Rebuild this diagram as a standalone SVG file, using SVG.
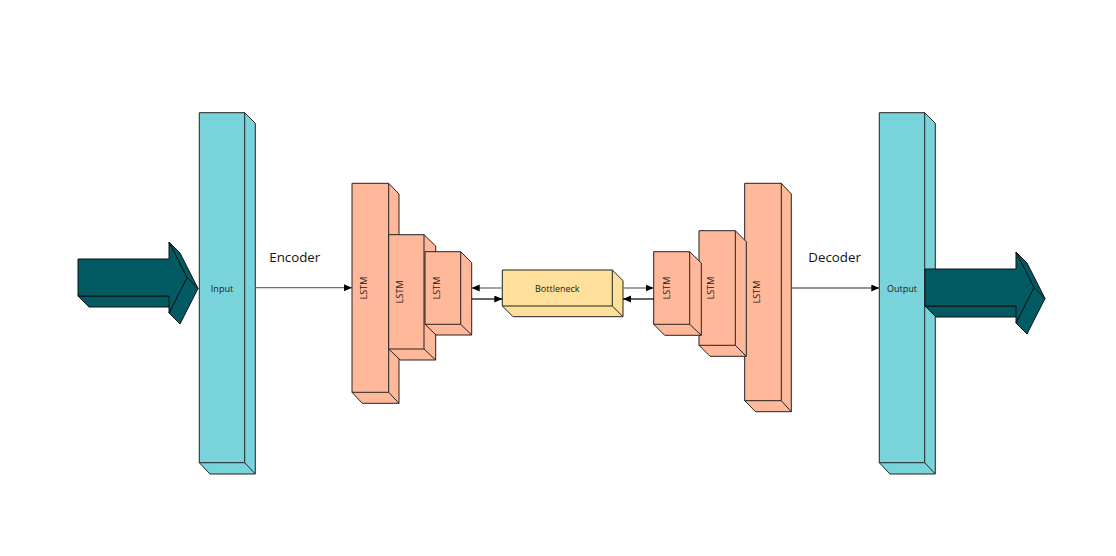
<svg xmlns="http://www.w3.org/2000/svg" width="1116" height="556" viewBox="0 0 1116 556">
<defs>
<marker id="ah" markerUnits="userSpaceOnUse" markerWidth="9" markerHeight="8" refX="8" refY="3.5" orient="auto">
<path d="M0,0 L8,3.5 L0,7 Z" fill="#000"/>
</marker>
<style>
.col{fill:#79D3DB;stroke:#222;stroke-width:1;stroke-linejoin:round}
.lstm{fill:#FFB899;stroke:#222;stroke-width:1;stroke-linejoin:round}
.bn{fill:#FFE09A;stroke:#222;stroke-width:1;stroke-linejoin:round}
.arr{fill:#025B63;stroke:#111;stroke-width:1;stroke-linejoin:round}
.edge{fill:none;stroke:#222;stroke-width:1}
.lbl{font-family:"Open Sans","DejaVu Sans",sans-serif;font-size:9px;fill:#1a1a1a;text-anchor:middle;dominant-baseline:central}
.big{font-family:"Open Sans","DejaVu Sans",sans-serif;font-size:13.3px;fill:#111}
.g{fill:none;stroke:#6E6E6E;stroke-width:1.3}
.k{fill:none;stroke:#000;stroke-width:1.2}
</style>
</defs>
<rect width="1116" height="556" fill="#fff"/>

<!-- Input arrow -->
<g id="input-arrow">
<polygon class="arr" points="78,296 169,296 180,307 89,307"/>
<polygon class="arr" points="169,242 180,253 198,288.5 187,277.5"/>
<polygon class="arr" points="187,277.5 198,288.5 180,324 169,313"/>
<polygon class="arr" points="78,259 169,259 169,242 187,277.5 169,313 169,296 78,296"/>
</g>

<!-- Input column -->
<g id="input">
<path class="col" d="M199.3,112.7 H244.7 L255.3,123.3 V474 H210 L199.3,462.7 Z"/>
<path class="edge" d="M244.7,112.7 V462.7 H199.3 M244.7,462.7 L255.3,474"/>
<text class="lbl" x="222" y="288">Input</text>
</g>

<!-- Encoder LSTMs -->
<g id="lstm1">
<path class="lstm" d="M352,183.3 H388.7 L399,194 V403.3 H362.3 L352,392.3 Z"/>
<path class="edge" d="M388.7,183.3 V392.3 H352 M388.7,392.3 L399,403.3"/>
<text class="lbl" transform="translate(363.8,288) rotate(-90)">LSTM</text>
</g>
<g id="lstm2">
<path class="lstm" d="M388.7,234.7 H424 L435.7,246 V360 H400.3 L388.7,349 Z"/>
<path class="edge" d="M424,234.7 V349 H388.7 M424,349 L435.7,360"/>
<text class="lbl" transform="translate(399,291.8) rotate(-90)">LSTM</text>
</g>
<g id="lstm3">
<path class="lstm" d="M425,251.7 H460.7 L471.7,262.7 V335 H436 L425,324.3 Z"/>
<path class="edge" d="M460.7,251.7 V324.3 H425 M460.7,324.3 L471.7,335"/>
<text class="lbl" transform="translate(436.5,288) rotate(-90)">LSTM</text>
</g>

<!-- Bottleneck -->
<g id="bottleneck">
<path class="bn" d="M502.3,270 H612.3 L623,280.7 V316.7 H513 L502.3,306 Z"/>
<path class="edge" d="M612.3,270 V306 H502.3 M612.3,306 L623,316.7"/>
<text class="lbl" x="557.3" y="288">Bottleneck</text>
</g>

<!-- Decoder LSTMs -->
<g id="lstm6">
<path class="lstm" d="M744.7,183.3 H781.3 L791.3,194 V411.7 H755.5 L744.7,400.7 Z"/>
<path class="edge" d="M781.3,183.3 V400.7 H744.7 M781.3,400.7 L791.3,411.7"/>
<text class="lbl" transform="translate(756,292) rotate(-90)">LSTM</text>
</g>
<g id="lstm5">
<path class="lstm" d="M699,230.7 H735.3 L746.3,241.7 V356.3 H710 L699,345.3 Z"/>
<path class="edge" d="M735.3,230.7 V345.3 H699 M735.3,345.3 L746.3,356.3"/>
<text class="lbl" transform="translate(710.7,288) rotate(-90)">LSTM</text>
</g>
<g id="lstm4">
<path class="lstm" d="M653.7,251.7 H689.7 L701.3,263 V335.3 H664.7 L653.7,324.3 Z"/>
<path class="edge" d="M689.7,251.7 V324.3 H653.7 M689.7,324.3 L701.3,335.3"/>
<text class="lbl" transform="translate(666,288) rotate(-90)">LSTM</text>
</g>

<!-- Output column -->
<g id="output">
<path class="col" d="M879.3,112.7 H924.7 L935.3,123.3 V474 H890 L879.3,462.7 Z"/>
<path class="edge" d="M924.7,112.7 V462.7 H879.3 M924.7,462.7 L935.3,474"/>
<text class="lbl" x="902" y="288">Output</text>
</g>

<!-- Output arrow -->
<g id="output-arrow" transform="translate(847,10)">
<polygon class="arr" points="78,296 169,296 180,307 89,307"/>
<polygon class="arr" points="169,242 180,253 198,288.5 187,277.5"/>
<polygon class="arr" points="187,277.5 198,288.5 180,324 169,313"/>
<polygon class="arr" points="78,259 169,259 169,242 187,277.5 169,313 169,296 78,296"/>
</g>

<!-- Connectors -->
<g id="connectors">
<line class="g" x1="255.3" y1="287.7" x2="352" y2="287.7" marker-end="url(#ah)"/>
<line class="g" x1="502.3" y1="288" x2="471.7" y2="288" marker-end="url(#ah)"/>
<line class="k" x1="471.7" y1="299" x2="502.3" y2="299" marker-end="url(#ah)"/>
<line class="g" x1="623" y1="288" x2="653.7" y2="288" marker-end="url(#ah)"/>
<line class="k" x1="653.7" y1="299" x2="623" y2="299" marker-end="url(#ah)"/>
<line class="g" x1="791.3" y1="288" x2="879.3" y2="288" marker-end="url(#ah)"/>
</g>

<text class="big" x="269.3" y="262.3">Encoder</text>
<text class="big" x="808.3" y="261.7">Decoder</text>
</svg>
